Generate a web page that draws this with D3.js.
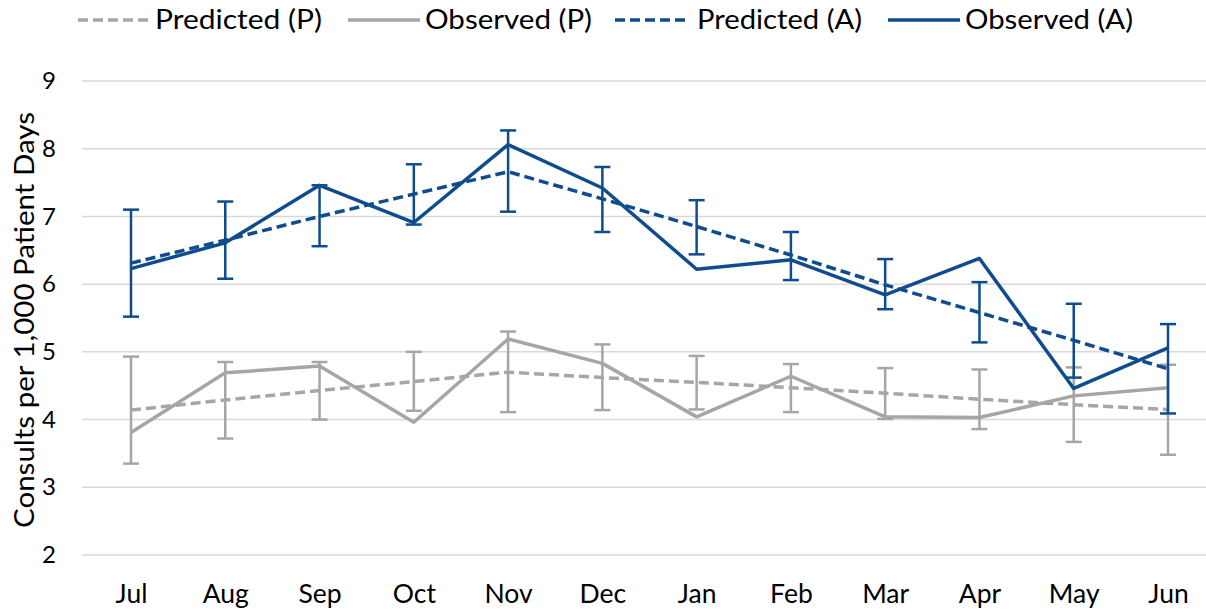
<!DOCTYPE html>
<html>
<head>
<meta charset="utf-8">
<script src="https://cdn.jsdelivr.net/npm/d3@7"></script>
<style>
  html, body { margin: 0; padding: 0; background: #fff; }
  svg { display: block; font-family: Lato, "Open Sans", sans-serif; }
</style>
</head>
<body>
<svg id="chart" width="1206" height="612"></svg>
<script>
const months = ["Jul","Aug","Sep","Oct","Nov","Dec","Jan","Feb","Mar","Apr","May","Jun"];
const yTicks = [2,3,4,5,6,7,8,9];

const predictedP = [4.14,4.29,4.43,4.56,4.70,4.62,4.55,4.47,4.39,4.30,4.22,4.15];
const observedP  = [3.81,4.69,4.79,3.96,5.19,4.83,4.04,4.64,4.04,4.03,4.35,4.47];
const errLowP    = [3.35,3.72,4.00,4.13,4.11,4.14,4.15,4.11,4.01,3.86,3.67,3.48];
const errHighP   = [4.93,4.85,4.85,5.00,5.30,5.11,4.94,4.82,4.76,4.74,4.77,4.81];

const predictedA = [6.31,6.65,7.00,7.33,7.66,7.26,6.85,6.43,5.99,5.58,5.17,4.75];
const observedA  = [6.23,6.61,7.46,6.91,8.06,7.42,6.22,6.36,5.84,6.38,4.46,5.06];
const errLowA    = [5.52,6.08,6.56,6.88,7.07,6.77,6.44,6.06,5.63,5.14,4.62,4.09];
const errHighA   = [7.10,7.22,7.46,7.77,8.27,7.73,7.24,6.77,6.37,6.03,5.71,5.41];

const legendLabels = ["Predicted (P)","Observed (P)","Predicted (A)","Observed (A)"];
const yTitle = "Consults per 1,000 Patient Days";

const GRAY = "#a6a6a6", BLUE = "#0f4c8f";

const svg = d3.select("#chart");
const x = d3.scalePoint().domain(months).range([131, 1168]);
const y = d3.scaleLinear().domain([2, 9]).range([555, 81]);

// gridlines
svg.append("g").selectAll("line").data(yTicks).join("line")
  .attr("x1", 82).attr("x2", 1206)
  .attr("y1", d => y(d)).attr("y2", d => y(d))
  .attr("stroke", "#d9d9d9").attr("stroke-width", 1.5);

// y axis
const yAxis = svg.append("g").attr("transform", "translate(56,0)")
  .call(d3.axisLeft(y).tickValues(yTicks).tickSize(0).tickPadding(0).tickFormat(d3.format("d")));
yAxis.select(".domain").remove();
yAxis.selectAll("text").attr("font-size", 24).attr("fill", "#000").attr("font-family", "Lato, sans-serif");

// x axis
const xAxis = svg.append("g").attr("transform", "translate(0,584)")
  .call(d3.axisBottom(x).tickSize(0).tickPadding(0));
xAxis.select(".domain").remove();
xAxis.selectAll("text").attr("font-size", 26.5).attr("fill", "#000").attr("dy", "0.71em").attr("font-family", "Lato, sans-serif");

// y title
svg.append("text")
  .attr("transform", "translate(34,320) rotate(-90)")
  .attr("text-anchor", "middle")
  .attr("font-size", 26)
  .attr("textLength", 416).attr("lengthAdjust", "spacingAndGlyphs")
  .text(yTitle);

const line = d3.line().x((d, i) => x(months[i])).y(d => y(d));

function drawSeries(pred, obs, lo, hi, color) {
  const g = svg.append("g");
  // error bars on predicted
  const eb = g.append("g").selectAll("g").data(months).join("g");
  eb.append("line")
    .attr("x1", d => x(d)).attr("x2", d => x(d))
    .attr("y1", (d, i) => y(lo[i])).attr("y2", (d, i) => y(hi[i]))
    .attr("stroke", color).attr("stroke-width", 2.5);
  eb.append("line")
    .attr("x1", d => x(d) - 8).attr("x2", d => x(d) + 8)
    .attr("y1", (d, i) => y(lo[i])).attr("y2", (d, i) => y(lo[i]))
    .attr("stroke", color).attr("stroke-width", 2.5);
  eb.append("line")
    .attr("x1", d => x(d) - 8).attr("x2", d => x(d) + 8)
    .attr("y1", (d, i) => y(hi[i])).attr("y2", (d, i) => y(hi[i]))
    .attr("stroke", color).attr("stroke-width", 2.5);
  g.append("path").datum(pred).attr("d", line)
    .attr("fill", "none").attr("stroke", color).attr("stroke-width", 3.5)
    .attr("stroke-dasharray", "10,5").attr("stroke-linejoin", "round");
  g.append("path").datum(obs).attr("d", line)
    .attr("fill", "none").attr("stroke", color).attr("stroke-width", 3.5)
    .attr("stroke-linejoin", "round");
}
drawSeries(predictedP, observedP, errLowP, errHighP, GRAY);
drawSeries(predictedA, observedA, errLowA, errHighA, BLUE);

// legend
const legendItems = [
  {label: legendLabels[0], color: GRAY, dash: "10,5", x1: 78, x2: 152, tx: 155, tw: 167},
  {label: legendLabels[1], color: GRAY, dash: null, x1: 348, x2: 420, tx: 425, tw: 167},
  {label: legendLabels[2], color: BLUE, dash: "10,5", x1: 615, x2: 690, tx: 697, tw: 165},
  {label: legendLabels[3], color: BLUE, dash: null, x1: 888, x2: 960, tx: 965, tw: 168}
];
const lg = svg.append("g").selectAll("g").data(legendItems).join("g");
lg.append("line")
  .attr("x1", d => d.x1).attr("x2", d => d.x2).attr("y1", 20).attr("y2", 20)
  .attr("stroke", d => d.color).attr("stroke-width", 3.5)
  .attr("stroke-dasharray", d => d.dash);
lg.append("text")
  .attr("x", d => d.tx).attr("y", 20).attr("dy", "0.35em")
  .attr("font-size", 26)
  .attr("textLength", d => d.tw).attr("lengthAdjust", "spacingAndGlyphs")
  .text(d => d.label);
</script>
</body>
</html>
